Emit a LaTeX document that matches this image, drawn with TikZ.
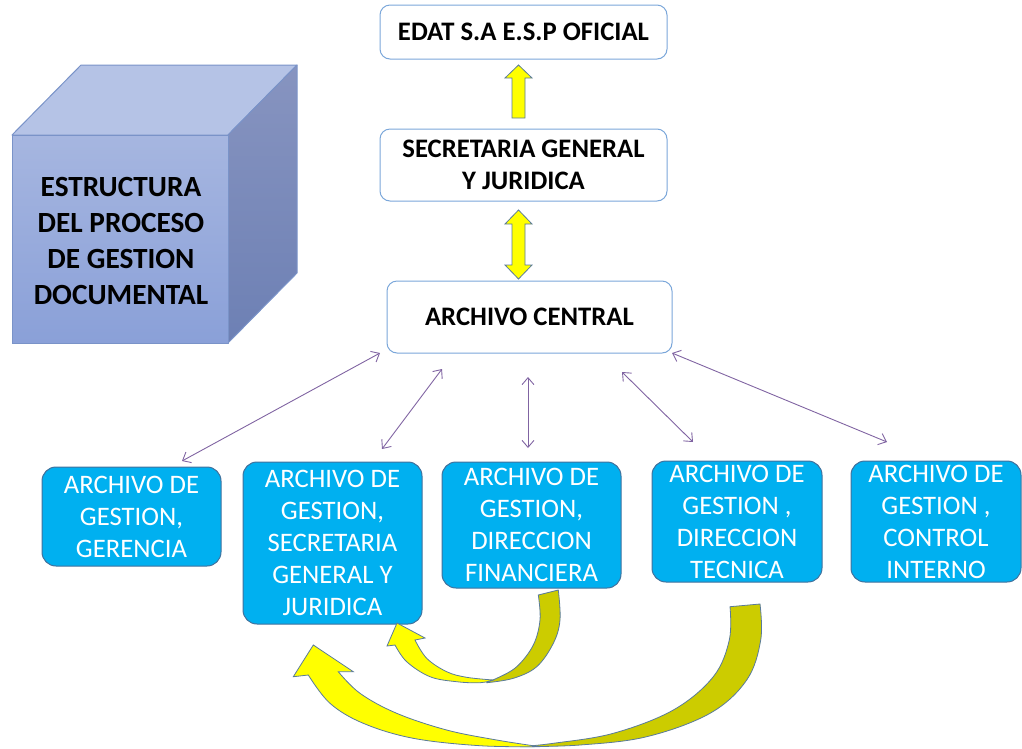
\documentclass[tikz,border=0pt]{standalone}
\usepackage{fontspec}
\setmainfont{Carlito}
\usetikzlibrary{arrows.meta}
\definecolor{topblue}{HTML}{7BA7DA}
\definecolor{boxfill}{HTML}{00B0F0}
\definecolor{boxline}{HTML}{41719C}
\definecolor{linkpurple}{HTML}{8064A2}
\definecolor{yel}{HTML}{FFFF00}
\definecolor{darkyel}{HTML}{CCCC00}
\definecolor{yelline}{HTML}{5A7B9A}
\definecolor{cubeline}{HTML}{7A93C8}
\definecolor{cubetop}{HTML}{B5C3E6}
\definecolor{cubefronttop}{HTML}{A6B6E0}
\definecolor{cubefrontbot}{HTML}{8AA0D8}
\definecolor{cubesidetop}{HTML}{8794C0}
\definecolor{cubesidebot}{HTML}{6D80B4}
\begin{document}
\begin{tikzpicture}[x=1pt,y=-1pt,
  topbox/.style={draw=topblue, line width=1pt, rounded corners=10pt, fill=white,
    font=\bfseries\fontsize{26.7}{32}\selectfont, align=center, inner sep=0pt},
  bluebox/.style={draw=boxline, line width=1pt, rounded corners=14pt, fill=boxfill,
    text=white, font=\fontsize{26.7}{32}\selectfont, align=center, inner sep=0pt},
  blockarrow/.style={fill=yel, draw=yelline, line width=0.8pt},
  backarrow/.style={fill=darkyel, draw=yelline, line width=0.8pt},
  link/.style={draw=linkpurple, line width=0.9pt,
    {Straight Barb[length=7pt,width=12pt]}-{Straight Barb[length=7pt,width=12pt]}},
  cubeedge/.style={draw=cubeline, line width=1pt, line join=round}
]
\useasboundingbox (0,0) rectangle (1022,748);

% ---- cube ----
\path[cubeedge, fill=cubetop] (12,135) -- (81,65) -- (297,65) -- (228,135) -- cycle;
\path[cubeedge, top color=cubesidetop, bottom color=cubesidebot] (228,135) -- (297,65) -- (297,273) -- (228,343) -- cycle;
\path[cubeedge, top color=cubefronttop, bottom color=cubefrontbot] (12,135) rectangle (228,343);
\node[font=\bfseries\fontsize{29.3}{36}\selectfont, align=center] (cubetext) at (121,240.5)
  {ESTRUCTURA\\DEL PROCESO\\DE GESTION\\DOCUMENTAL};

% ---- top boxes ----
\node[topbox, minimum width=287pt, minimum height=54pt] (edat) at (523.5,32) {EDAT S.A E.S.P OFICIAL};
\node[topbox, minimum width=287pt, minimum height=72pt] (sec) at (523.5,165) {SECRETARIA GENERAL\\Y JURIDICA};
\node[topbox, minimum width=285pt, minimum height=72pt] (ac) at (529.5,317) {ARCHIVO CENTRAL};

% ---- yellow block arrows ----
\path[blockarrow] (512,118) -- (512,78) -- (505,78) -- (518.5,65) -- (532,78) -- (525,78) -- (525,118) -- cycle;
\path[blockarrow] (512,224) -- (505,224) -- (518.5,210) -- (532,224) -- (525,224) -- (525,265)
  -- (532,265) -- (518.5,279) -- (505,265) -- (512,265) -- cycle;

% ---- blue boxes ----
\node[bluebox, minimum width=179pt, minimum height=99pt] (ger) at (131.5,516.5) {ARCHIVO DE\\GESTION,\\GERENCIA};
\node[bluebox, minimum width=179pt, minimum height=162pt] (sgj) at (332.5,543) {ARCHIVO DE\\GESTION,\\SECRETARIA\\GENERAL Y\\JURIDICA};
\node[bluebox, minimum width=179pt, minimum height=126pt] (fin) at (531.5,525) {ARCHIVO DE\\GESTION,\\DIRECCION\\FINANCIERA};
\node[bluebox, minimum width=170pt, minimum height=121pt] (tec) at (737,521.5) {ARCHIVO DE\\GESTION ,\\DIRECCION\\TECNICA};
\node[bluebox, minimum width=170pt, minimum height=121pt] (ci) at (936,521.5) {ARCHIVO DE\\GESTION ,\\CONTROL\\INTERNO};

% ---- thin links ----
\coordinate (l1a) at (380,353);  \coordinate (l1b) at (182,461);
\coordinate (l2a) at (442,369);  \coordinate (l2b) at (382,449);
\coordinate (l3a) at (528,377);  \coordinate (l3b) at (528,448);
\coordinate (l4a) at (622,372);  \coordinate (l4b) at (693,442);
\coordinate (l5a) at (672,353);  \coordinate (l5b) at (887,442);
\draw[link] (l1a) -- (l1b);
\draw[link] (l2a) -- (l2b);
\draw[link] (l3a) -- (l3b);
\draw[link] (l4a) -- (l4b);
\draw[link] (l5a) -- (l5b);

% ---- small curved arrow (financiera -> secretaria) ----
\path[backarrow] plot[smooth, tension=0.6] coordinates {(558.3,590) (560,620) (553.3,643.3) (536.7,666.7) (513.3,678.3) (486.7,682.7)}
  -- plot[smooth, tension=0.6] coordinates {(486.7,681.7) (496.7,678.3) (516.7,666.7) (533.3,645) (540,620) (538.3,595)} -- cycle;
\path[blockarrow] plot[smooth, tension=0.6] coordinates {(493.3,680) (480,682.7) (456.7,681.7) (430,676.7) (406.7,661.7) (395,645)}
  -- (387,646) -- (397,623) -- (425,638)
  -- plot[smooth, tension=0.6] coordinates {(415,640) (426.7,658.3) (446.7,671.7) (466.7,677.3) (493.3,680)} -- cycle;

% ---- large curved arrow (tecnica -> secretaria) ----
\path[backarrow] plot[smooth, tension=0.6] coordinates {(760,604) (760.7,640) (746.7,680) (710,713.3) (646.7,736.7) (580,745) (520,746.7)}
  -- plot[smooth, tension=0.6] coordinates {(520,746.7) (553.3,743.3) (613.3,733.3) (673.3,710) (713.3,676.7) (729.3,640) (730,606.7)} -- cycle;
\path[blockarrow] plot[smooth, tension=0.6] coordinates {(540,746.7) (480,745.7) (413.3,738.3) (363.3,723.3) (330,703.3) (308.3,675)}
  -- (293.3,676.7) -- (313.3,645) -- (353.3,671.7)
  -- plot[smooth, tension=0.6] coordinates {(338.3,671.7) (360,693.3) (396.7,713.3) (446.7,730) (496.7,740) (540,746.7)} -- cycle;
\end{tikzpicture}
\end{document}
